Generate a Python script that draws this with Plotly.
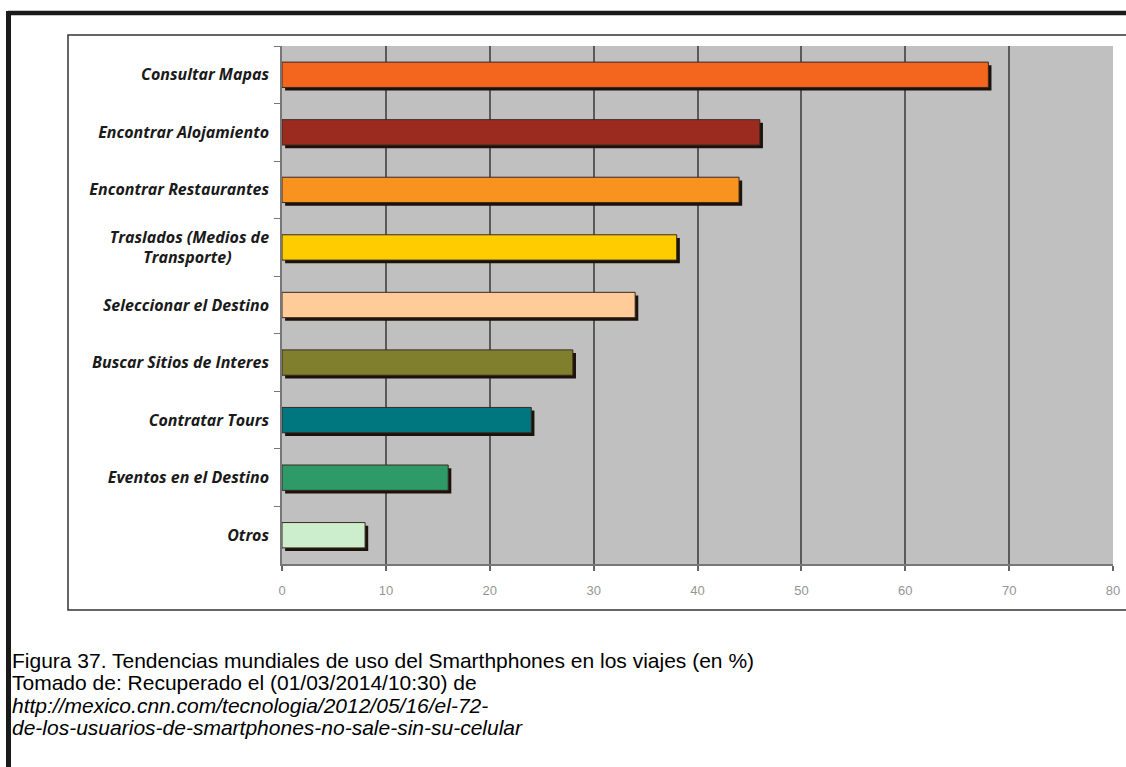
import plotly.graph_objects as go

categories = [
    "Consultar Mapas",
    "Encontrar Alojamiento",
    "Encontrar Restaurantes",
    "Traslados (Medios de<br>Transporte)" + "\u00a0" * 9,
    "Seleccionar el Destino",
    "Buscar Sitios de Interes",
    "Contratar Tours",
    "Eventos en el Destino",
    "Otros",
]
values = [68, 46, 44, 38, 34, 28, 24, 16, 8]
bar_colors = ["#F4661E", "#9C2B1F", "#F7931E", "#FFCC00", "#FFCC99",
              "#7F7F2E", "#00777F", "#2E9A68", "#CCEECC"]
x_ticks = [0, 10, 20, 30, 40, 50, 60, 70, 80]

caption_lines = [
    ("Figura 37. Tendencias mundiales de uso del Smarthphones en los viajes (en %)", False),
    ("Tomado de: Recuperado el (01/03/2014/10:30) de", False),
    ("http://mexico.cnn.com/tecnologia/2012/05/16/el-72-", True),
    ("de-los-usuarios-de-smartphones-no-sale-sin-su-celular", True),
]

W_PX, H_PX = 1126, 767
L, R, T, B = 282, 13, 46, 203
PW = W_PX - L - R
PH = H_PX - T - B


def px_x(px):
    return (px - L) / PW


def px_y(py):
    return (H_PX - B - py) / PH


BAR_W = 0.44

fig = go.Figure()
# shadow
fig.add_trace(go.Bar(
    y=categories, x=values, base=[0.3] * len(values), orientation="h",
    width=BAR_W, offset=-BAR_W / 2 + 0.055,
    marker=dict(color="#1c120c", line=dict(width=0)),
    hoverinfo="skip", showlegend=False,
))
fig.add_trace(go.Bar(
    y=categories, x=values, orientation="h", width=BAR_W,
    marker=dict(color=bar_colors, line=dict(color="#3a2a20", width=1)),
    hoverinfo="skip", showlegend=False,
))

shapes = [
    # inner chart box
    dict(type="rect", xref="paper", yref="paper",
         x0=px_x(68), x1=px_x(1250), y0=px_y(610), y1=px_y(35),
         line=dict(color="#333333", width=1.5), fillcolor="rgba(0,0,0,0)", layer="below"),
    # outer thick frame
    dict(type="line", xref="paper", yref="paper",
         x0=px_x(8), x1=px_x(1250), y0=px_y(13), y1=px_y(13),
         line=dict(color="#1a1a1a", width=4.5)),
    dict(type="line", xref="paper", yref="paper",
         x0=px_x(8.5), x1=px_x(8.5), y0=px_y(11), y1=px_y(800),
         line=dict(color="#1a1a1a", width=5)),
]

annotations = []
line_y = [660, 682.5, 705, 727.5]
for (txt, ital), yy in zip(caption_lines, line_y):
    annotations.append(dict(
        text=f"<i>{txt}</i>" if ital else txt,
        xref="paper", yref="paper", x=px_x(10), y=px_y(yy),
        xanchor="left", yanchor="middle", showarrow=False,
        font=dict(family="Liberation Sans, Arial", size=21, color="#000000"),
    ))

fig.update_layout(
    width=W_PX, height=H_PX,
    margin=dict(l=L, r=R, t=T, b=B, pad=0),
    paper_bgcolor="white", plot_bgcolor="#C0C0C0",
    barmode="overlay",
    shapes=shapes, annotations=annotations,
    xaxis=dict(
        range=[0, 80], tickvals=x_ticks, showgrid=True,
        gridcolor="#5a5a5a", gridwidth=1.5,
        showline=True, linecolor="#777777", linewidth=1.5,
        ticks="outside", ticklen=5, tickcolor="#666666", tickwidth=1.5,
        tickfont=dict(family="Liberation Sans, Arial", size=13, color="#959595"),
        ticklabelstandoff=9, ticklabeloverflow="allow",
        zeroline=False, fixedrange=True, automargin=False,
    ),
    yaxis=dict(
        categoryorder="array", categoryarray=categories, autorange="reversed",
        showgrid=False, showline=True, linecolor="#777777", linewidth=1.5,
        ticks="outside", tickson="boundaries", ticklen=6, tickcolor="#777777",
        tickfont=dict(family="Open Sans", size=16, color="#1a1a1a",
                      weight="bold", style="italic"),
        ticklabelstandoff=8, fixedrange=True, automargin=False,
    ),
)

fig.write_html("out.html", config={"displayModeBar": False})
